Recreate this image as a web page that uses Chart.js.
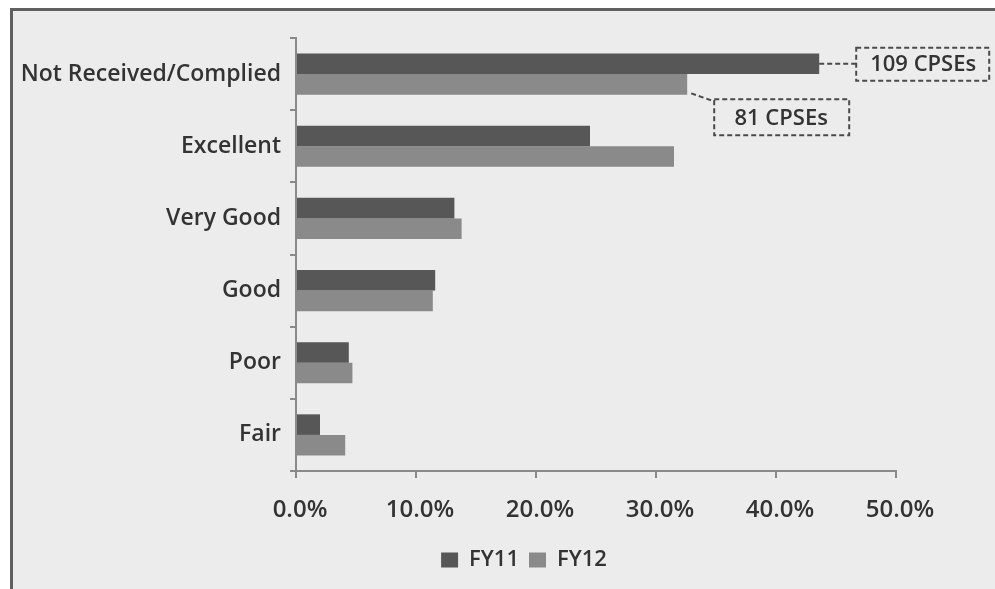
<!DOCTYPE html>
<html>
<head>
<meta charset="utf-8">
<script src="https://cdn.jsdelivr.net/npm/chart.js@4"></script>
<style>
  body { margin: 0; background: #fff; overflow: hidden; }
  #frame {
    position: absolute; left: 10px; top: 8px; width: 1000px; height: 600px;
    border-left: 3px solid #606060; border-top: 3px solid #606060;
    background: #ececec;
  }
  #myChart { position: absolute; left: 0; top: 0; }
</style>
</head>
<body>
<div id="frame"></div>
<canvas id="myChart" width="995" height="589"></canvas>
<script>
const categories = ["Not Received/Complied", "Excellent", "Very Good", "Good", "Poor", "Fair"];
const fy11 = [43.6, 24.5, 13.2, 11.6, 4.4, 2.0];
const fy12 = [32.6, 31.5, 13.8, 11.4, 4.7, 4.1];
const xTicks = [0, 10, 20, 30, 40, 50];
const notes = ["109 CPSEs", "81 CPSEs"];

const textColor = "#333333";
const axisColor = "#8a8a8a";

// dashed call-out boxes on the first category
const calloutPlugin = {
  id: "callouts",
  afterLayout(chart) {
    // legend sits right of the plot centre in the original
    chart.legend.left += 76;
    chart.legend.right += 76;
  },
  afterDatasetsDraw(chart) {
    const ctx = chart.ctx;
    const b1 = chart.getDatasetMeta(0).data[0];
    const b2 = chart.getDatasetMeta(1).data[0];
    ctx.save();
    ctx.strokeStyle = "#4a4a4a";
    ctx.lineWidth = 2;
    ctx.setLineDash([5, 3]);
    ctx.font = "600 22px 'Open Sans'";
    ctx.fillStyle = textColor;
    ctx.textAlign = "center";
    ctx.textBaseline = "middle";

    // 109 CPSEs
    let bx = b1.x + 37, by = b1.y - 16;
    ctx.beginPath();
    ctx.moveTo(b1.x, b1.y);
    ctx.lineTo(bx, b1.y);
    ctx.stroke();
    ctx.strokeRect(bx, by, 133, 33);
    ctx.fillText(notes[0], bx + 67, by + 17);

    // 81 CPSEs
    bx = b2.x + 27; by = b2.y + 15;
    ctx.beginPath();
    ctx.moveTo(b2.x + 4, b2.y + 9);
    ctx.lineTo(bx, by + 2);
    ctx.stroke();
    ctx.strokeRect(bx, by, 135, 36);
    ctx.fillText(notes[1], bx + 67, by + 19);
    ctx.restore();
  }
};

new Chart(document.getElementById("myChart"), {
  type: "bar",
  data: {
    labels: categories,
    datasets: [
      { label: "FY11", data: fy11, backgroundColor: "#575757" },
      { label: "FY12", data: fy12, backgroundColor: "#8a8a8a" },
    ],
  },
  options: {
    indexAxis: "y",
    responsive: false,
    animation: false,
    categoryPercentage: 0.57,
    barPercentage: 1.0,
    layout: { padding: { left: 0, top: 38, right: 99, bottom: 8 } },
    plugins: {
      tooltip: { enabled: false },
      legend: {
        position: "bottom",
        labels: {
          color: textColor,
          font: { family: "Open Sans", size: 22, weight: "600" },
          boxWidth: 17,
          boxHeight: 15,
          padding: 10,
        },
      },
    },
    scales: {
      x: {
        min: 0,
        max: 50,
        afterBuildTicks: (s) => { s.ticks = xTicks.map((v) => ({ value: v })); },
        afterFit: (s) => { s.height = 68; },
        ticks: {
          color: textColor,
          font: { family: "Open Sans", size: 24, weight: "600" },
          padding: 18,
          labelOffset: 4,
          callback: (v) => v.toFixed(1) + "%",
        },
        grid: { drawOnChartArea: false, tickLength: 7, color: axisColor, lineWidth: 2 },
        border: { color: axisColor, width: 2 },
      },
      y: {
        afterFit: (s) => { s.width = 296; },
        ticks: {
          color: textColor,
          font: { family: "Open Sans", size: 23, weight: "600" },
          padding: 9,
        },
        grid: { offset: true, drawOnChartArea: false, tickLength: 6, color: axisColor, lineWidth: 2 },
        border: { color: axisColor, width: 2 },
      },
    },
  },
  plugins: [calloutPlugin],
});
</script>
</body>
</html>
